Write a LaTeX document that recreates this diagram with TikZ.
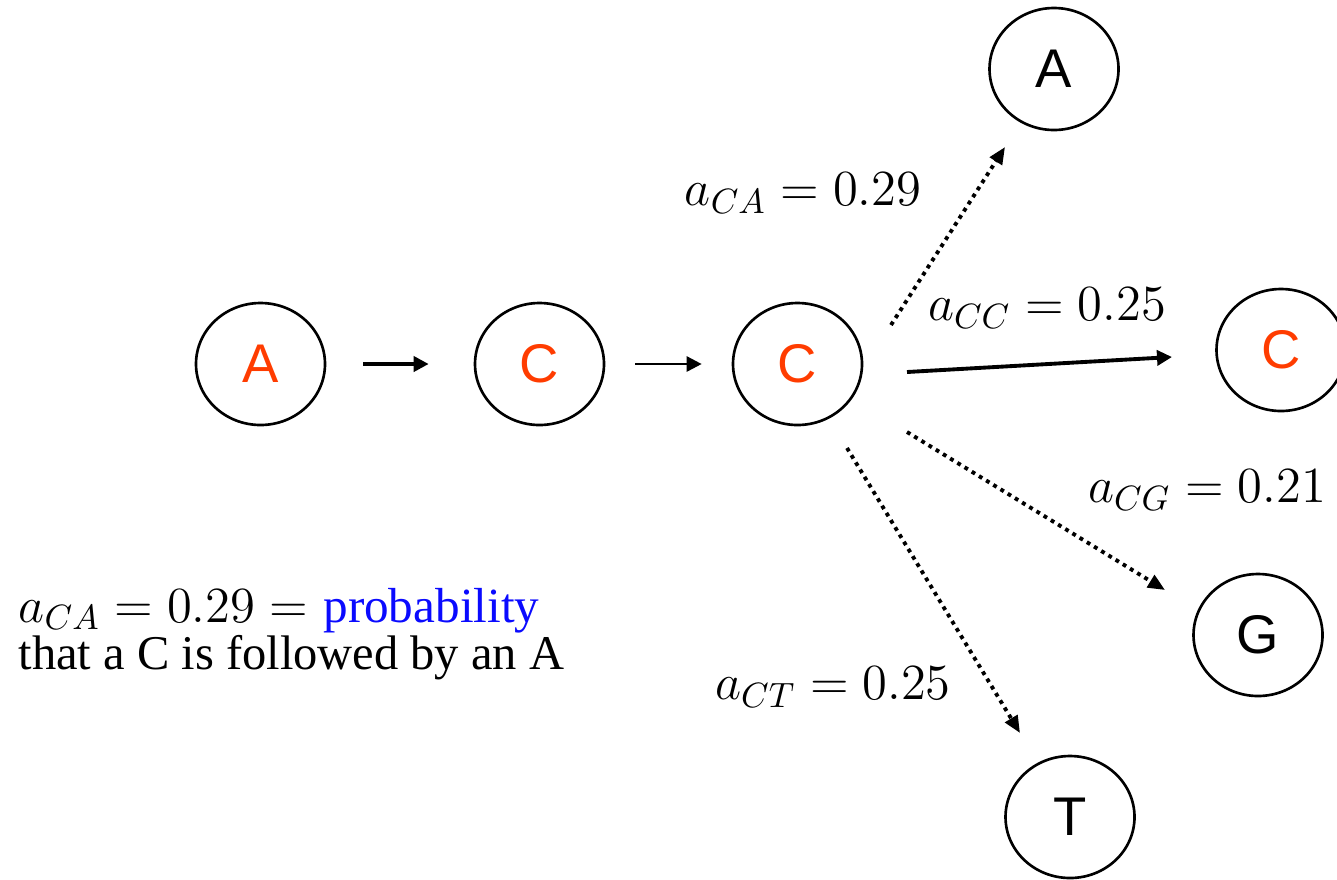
\documentclass[tikz,border=0pt]{standalone}
\usepackage{fontspec}
\newfontfamily\helv{Liberation Sans}
\newfontfamily\notefont{Liberation Serif}
\usetikzlibrary{arrows.meta,shapes.geometric}
\definecolor{basered}{RGB}{255,60,0}
\definecolor{probblue}{RGB}{10,10,255}
\begin{document}
\begin{tikzpicture}[
    base/.style={ellipse,draw,line width=0.75pt,minimum width=1.29cm,minimum height=1.22cm,
      inner sep=0pt,font=\helv\fontsize{15.5}{18}\selectfont},
    redbase/.style={base,text=basered},
    arr/.style={-{Triangle[length=0.15cm,width=0.15cm]}},
    dotarr/.style={-{Triangle[length=0.17cm,width=0.14cm]},line width=1.1pt,
      dash pattern=on 1.1pt off 1.3pt},
    lbl/.style={font=\fontsize{13.6}{16}\selectfont,inner sep=0pt}]
  \useasboundingbox (0,0) rectangle (13.37,8.79);
  % ---- the chain read so far ----
  \node[redbase] (a1) at (2.605,5.15) {A};
  \node[redbase] (c1) at (5.395,5.15) {C};
  \node[redbase] (c2) at (7.975,5.15) {\raisebox{-2.2pt}{C}};
  \draw[arr,line width=1.1pt,shorten <=0.37cm,shorten >=0.45cm] (a1) -- (c1);
  \draw[arr,line width=0.75pt,shorten <=0.30cm,shorten >=0.30cm] (c1) -- (c2);
  % ---- the four possible next bases ----
  \node[base] (na) at (10.54,8.10) {A};
  \node[redbase] (nc) at (12.81,5.29) {C};
  \node[base] (ng) at (12.58,2.44) {G};
  \node[base] (nt) at (10.70,0.62) {T};
  \coordinate (tail-a) at (8.91,5.54);  \coordinate (head-a) at (10.05,7.32);
  \coordinate (tail-c) at (9.07,5.07);  \coordinate (head-c) at (11.72,5.22);
  \coordinate (tail-g) at (9.07,4.47);  \coordinate (head-g) at (11.65,2.89);
  \coordinate (tail-t) at (8.47,4.31);  \coordinate (head-t) at (10.20,1.46);
  \draw[dotarr] (tail-a) -- (head-a);
  \draw[arr,line width=1.1pt] (tail-c) -- (head-c);
  \draw[dotarr] (tail-g) -- (head-g);
  \draw[dotarr] (tail-t) -- (head-t);
  % ---- transition probabilities ----
  \node[lbl] (pa) at (8.03,6.86) {$a_{CA} = 0.29$};
  \node[lbl] (pc) at (10.47,5.71) {$a_{CC} = 0.25$};
  \node[lbl] (pg) at (12.07,3.89) {$a_{CG} = 0.21$};
  \node[lbl] (pt) at (8.33,1.92) {$a_{CT} = 0.25$};
  \node[lbl,anchor=base west,text depth=2.8pt] (note1) at (0.18,2.57)
    {$a_{CA} = 0.29 =$ {\notefont\fontsize{14}{16}\selectfont\color{probblue}probability}};
  \node[lbl,anchor=base west,text height=9.4pt] (note2) at (0.18,2.10)
    {\notefont\fontsize{13.8}{16}\selectfont that a C is followed by an A};
\end{tikzpicture}
\end{document}
